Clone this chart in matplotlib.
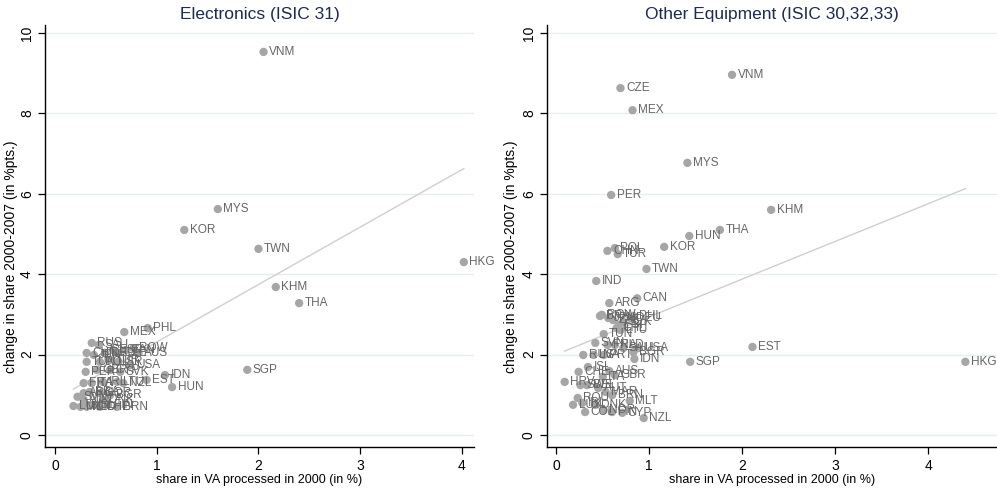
import matplotlib
matplotlib.use("Agg")
import matplotlib.pyplot as plt
import numpy as np

# ---------------- data ----------------
ele_title = "Electronics (ISIC 31)"
ele_countries = ["VNM", "MYS", "KOR", "TWN", "HKG", "KHM", "THA", "SGP", "PHL", "MEX",
                 "IDN", "HUN", "EST", "NZL", "BRN", "RUS", "AUS", "USA", "ROW",
                 "SAU", "CHN", "CAN", "JPN", "DEU", "ESP", "CZE", "TUN", "POL", "TUR",
                 "ISR", "PER", "GBR", "CYP", "SVK", "FRA", "ITA", "IRL", "LTU", "SVN",
                 "ARG", "BRA", "NOR", "BGR", "LUX", "MLT", "NLD", "ISL", "CHE", "FIN",
                 "AUT", "DNK"]
ele_x = [2.05, 1.60, 1.27, 2.00, 4.02, 2.17, 2.40, 1.89, 0.91, 0.68,
         1.08, 1.15, 0.90, 0.67, 0.61, 0.36, 0.82, 0.74, 0.77,
         0.43, 0.31, 0.69, 0.38, 0.49, 0.57, 0.62, 0.31, 0.44, 0.54,
         0.62, 0.30, 0.41, 0.54, 0.64, 0.28, 0.36, 0.47, 0.61, 0.22,
         0.28, 0.34, 0.44, 0.54, 0.18, 0.25, 0.31, 0.37, 0.44, 0.52,
         0.28, 0.47]
ele_y = [9.53, 5.62, 5.10, 4.63, 4.30, 3.68, 3.28, 1.62, 2.66, 2.56,
         1.49, 1.19, 1.37, 1.29, 0.70, 2.29, 2.04, 1.74, 2.16,
         2.24, 2.04, 2.11, 1.99, 2.04, 2.11, 2.04, 1.82, 1.82, 1.87,
         1.82, 1.57, 1.62, 1.62, 1.57, 1.29, 1.29, 1.32, 1.32, 0.95,
         1.04, 1.07, 1.04, 0.99, 0.72, 0.70, 0.70, 0.75, 0.70, 0.75,
         0.87, 0.87]

oth_title = "Other Equipment (ISIC 30,32,33)"
oth_countries = ["VNM", "CZE", "MEX", "MYS", "PER", "KHM", "THA", "HUN", "KOR", "CHN",
                 "POL", "TUR", "TWN", "IND", "CAN", "ARG", "BRA", "PHL",
                 "ROW", "JPN", "ZAF", "ESP", "SVK", "DEU", "LTU", "CHL", "TUN",
                 "SVN", "FRA", "NLD", "SAU", "BGR", "USA", "RUS", "LVA", "PRT",
                 "IDN", "SGP", "EST", "HKG", "ISL", "AUS", "GBR", "CHE", "ITA",
                 "HRV", "SWE", "BEL", "AUT", "MAR", "BRN", "ROU", "LUX", "IRL",
                 "DNK", "NOR", "FIN", "CYP", "COL", "MLT", "NZL"]
oth_x = [1.89, 0.69, 0.82, 1.41, 0.59, 2.31, 1.76, 1.43, 1.16, 0.55,
         0.63, 0.66, 0.97, 0.43, 0.87, 0.57, 0.47, 0.83,
         0.49, 0.56, 0.61, 0.67, 0.72, 0.80, 0.69, 0.65, 0.51,
         0.42, 0.55, 0.63, 0.72, 0.83, 0.88, 0.29, 0.40, 0.51,
         0.84, 1.44, 2.11, 4.40, 0.34, 0.57, 0.63, 0.24, 0.50,
         0.09, 0.26, 0.33, 0.45, 0.53, 0.60, 0.23, 0.18, 0.28,
         0.42, 0.51, 0.60, 0.71, 0.31, 0.79, 0.94]
oth_y = [8.96, 8.63, 8.08, 6.77, 5.97, 5.60, 5.10, 4.95, 4.68, 4.58,
         4.65, 4.50, 4.13, 3.83, 3.40, 3.28, 2.96, 2.96,
         2.99, 2.91, 2.86, 2.74, 2.81, 2.91, 2.61, 2.66, 2.51,
         2.29, 2.24, 2.24, 2.16, 2.06, 2.16, 1.99, 1.99, 1.99,
         1.89, 1.82, 2.19, 1.82, 1.69, 1.59, 1.49, 1.57, 1.45,
         1.32, 1.24, 1.24, 1.17, 1.07, 0.99, 0.92, 0.75, 0.80,
         0.75, 0.62, 0.57, 0.55, 0.57, 0.85, 0.42]

x_ticks = [0, 1, 2, 3, 4]
y_ticks = [0, 2, 4, 6, 8, 10]
x_label = "share in VA processed in 2000 (in %)"
y_label = "change in share 2000-2007 (in %pts.)"

# ---------------- style ----------------
plt.rcParams['font.family'] = ['Liberation Sans', 'DejaVu Sans']
W, H = 997, 491
fig = plt.figure(figsize=(W / 100, H / 100), dpi=100)

MARK = "#a6a6a6"
LABC = "#666666"
TITLEC = "#1c2b4e"
GRIDC = "#e6efef"
FITC = "#cfcfcf"


def panel(rect, title, names, xs, ys, xlim, ylab_x):
    ax = fig.add_axes(rect)
    xs = np.asarray(xs)
    ys = np.asarray(ys)
    ax.set_xlim(*xlim)
    ax.set_ylim(-0.3, 10.2)
    for yt in y_ticks:
        ax.axhline(yt, color=GRIDC, lw=1.0, zorder=0)
    b, a = np.polyfit(xs, ys, 1)
    xx = np.array([xs.min(), xs.max()])
    ax.plot(xx, a + b * xx, color=FITC, lw=1.0, zorder=1)
    ax.scatter(xs, ys, s=36, color=MARK, edgecolors='none', zorder=3)
    for n, x, y in zip(names, xs, ys):
        ax.annotate(n, (x, y), xytext=(4, 0), textcoords='offset points',
                    ha='left', va='center', fontsize=8.5, color=LABC,
                    zorder=4, annotation_clip=False)
    ax.set_xticks(x_ticks)
    ax.set_yticks(y_ticks)
    ax.set_yticklabels([str(t) for t in y_ticks], rotation=90, va='center')
    ax.tick_params(axis='both', direction='out', length=5, width=0.9,
                   labelsize=10, color='black')
    ax.tick_params(axis='y', pad=3)
    for s in ['top', 'right']:
        ax.spines[s].set_visible(False)
    for s in ['left', 'bottom']:
        ax.spines[s].set_linewidth(1.0)
    ax.set_xlabel(x_label, fontsize=9, labelpad=1)
    ax.set_ylabel(y_label, fontsize=10, labelpad=1)
    ax.yaxis.set_label_coords(ylab_x, 0.45)
    ax.set_title(title, fontsize=12.5, color=TITLEC, pad=4)
    return ax


bot = (H - 447) / H
top = (H - 25) / H
panel([45 / W, bot, (474 - 45) / W, top - bot], ele_title,
      ele_countries, ele_x, ele_y, (-0.10, 4.12), -0.063)
panel([547 / W, bot, (997 - 547) / W, top - bot], oth_title,
      oth_countries, oth_x, oth_y, (-0.10, 4.74), -0.064)

fig.savefig("out.png", dpi=100)
